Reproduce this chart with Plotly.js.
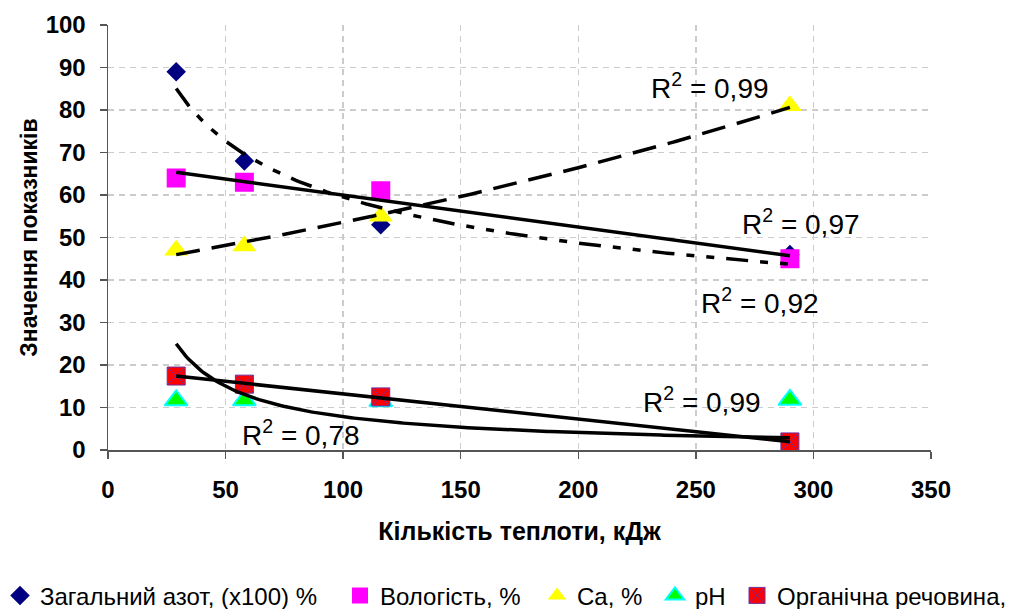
<!DOCTYPE html>
<html><head><meta charset="utf-8">
<script src="https://cdn.plot.ly/plotly-3.0.1.min.js"></script>
<style>html,body{margin:0;padding:0;background:#fff}#chart{width:1014px;height:609px}</style>
</head><body><div id="chart"></div>
<script>
// ---- data ----
const heat = [29, 58, 116, 290];              // Кількість теплоти, кДж
const nitrogen = [89, 68, 53, 46];            // Загальний азот, (x100) %
const moisture = [64, 63, 61, 45];            // Вологість, %
const calcium = [47, 48, 55, 81];             // Ca, %
const ph = [11.7, 11.7, 11.5, 11.8];          // pH
const organic = [17.4, 15.5, 12.5, 1.9];      // Органічна речовина
const seriesNames = ['Загальний азот, (x100) %', 'Вологість, %', 'Ca, %', 'pH', 'Органічна речовина,'];
const r2Texts = ['R<sup>2</sup> = 0,99', 'R<sup>2</sup> = 0,97', 'R<sup>2</sup> = 0,92', 'R<sup>2</sup> = 0,99', 'R<sup>2</sup> = 0,78'];
const xTickVals = [0, 50, 100, 150, 200, 250, 300, 350];
const yTickVals = [0, 10, 20, 30, 40, 50, 60, 70, 80, 90, 100];

// ---- least-squares trendlines (as Excel computes them) ----
function lsq(xs, ys) {
  const n = xs.length;
  const mx = xs.reduce((a, b) => a + b, 0) / n, my = ys.reduce((a, b) => a + b, 0) / n;
  let sxy = 0, sxx = 0;
  for (let i = 0; i < n; i++) { sxy += (xs[i] - mx) * (ys[i] - my); sxx += (xs[i] - mx) ** 2; }
  const b = sxy / sxx;
  return { a: my - b * mx, b: b };
}
const fits = {
  linear: (xs, ys) => { const f = lsq(xs, ys); return x => f.a + f.b * x; },
  power: (xs, ys) => { const f = lsq(xs.map(Math.log), ys.map(Math.log)); return x => Math.exp(f.a) * Math.pow(x, f.b); },
  exp: (xs, ys) => { const f = lsq(xs, ys.map(Math.log)); return x => Math.exp(f.a + f.b * x); }
};
const xmin = Math.min(...heat), xmax = Math.max(...heat);
const sampleX = [];
for (let i = 0; i <= 200; i++) sampleX.push(xmin + (xmax - xmin) * i / 200);
function trend(kind, ys, dash) {
  const f = fits[kind](heat, ys);
  return { type: 'scatter', mode: 'lines', x: sampleX, y: sampleX.map(f), showlegend: false, hoverinfo: 'skip',
    line: { color: '#000000', width: 3.5, dash: dash } };
}

const FONT = 'Liberation Sans, Arial, sans-serif';
const markerTraces = [
  { y: nitrogen, marker: { symbol: 'diamond', size: 15, color: '#000080' }, legend: 'legend' },
  { y: moisture, marker: { symbol: 'square', size: 19, color: '#FF00FF' }, legend: 'legend2' },
  { y: calcium, marker: { symbol: 'triangle-up', size: 21, color: '#FFFF00' }, legend: 'legend3' },
  { y: ph, marker: { symbol: 'triangle-up', size: 20, color: '#00FF00', line: { color: '#00FFFF', width: 2 } }, legend: 'legend4' },
  { y: organic, marker: { symbol: 'square-x', size: 18, color: '#FF0000', line: { color: '#7030A0', width: 1 } }, legend: 'legend5' }
].map((t, i) => Object.assign({ type: 'scatter', mode: 'markers', x: heat, name: seriesNames[i] }, t));

const traces = markerTraces.concat([
  trend('power', nitrogen, '22px,12px,8px,12px,8px,12px'),
  trend('linear', moisture, 'solid'),
  trend('exp', calcium, '24px,12px'),
  trend('linear', organic, 'solid'),
  trend('power', organic, 'solid')
]);

function legendAt(x) {
  return { x: x, y: -0.343, xanchor: 'left', yanchor: 'middle', orientation: 'h', bgcolor: 'rgba(0,0,0,0)',
    itemsizing: 'trace', font: { family: FONT, size: 24, color: '#000' } };
}
const annPos = [[256, 85.6], [294.8, 53.6], [277.3, 35], [252.7, 11.8], [82.1, 4.0]];
const layout = {
  width: 1014, height: 609,
  margin: { l: 108, r: 83, t: 25, b: 159, autoexpand: false },
  paper_bgcolor: '#fff', plot_bgcolor: '#fff',
  font: { family: FONT, color: '#000' },
  xaxis: {
    range: [0, 350], tickvals: xTickVals, ticks: 'outside', ticklen: 7, tickcolor: '#555', tickwidth: 1.5,
    showline: true, linecolor: '#555', linewidth: 1.5, zeroline: false,
    showgrid: true, gridcolor: '#cccccc', griddash: '6px,5px', gridwidth: 1.5,
    tickfont: { family: FONT, size: 24, color: '#000', weight: 'bold' }, ticklabelstandoff: 11,
    title: { text: 'Кількість теплоти, кДж', font: { family: FONT, size: 25, color: '#000', weight: 'bold' }, standoff: 20 }
  },
  yaxis: {
    range: [0, 100], tickvals: yTickVals, ticks: 'outside', ticklen: 7, tickcolor: '#555', tickwidth: 1.5,
    showline: true, linecolor: '#555', linewidth: 1.5, zeroline: false,
    showgrid: true, gridcolor: '#cccccc', griddash: '6px,5px', gridwidth: 1.5,
    tickfont: { family: FONT, size: 24, color: '#000', weight: 'bold' }, ticklabelstandoff: 9,
    title: { text: 'Значення показників', font: { family: FONT, size: 23, color: '#000', weight: 'bold' }, standoff: 1 }
  },
  legend: legendAt(-0.1312),
  legend2: legendAt(0.2819),
  legend3: legendAt(0.5213),
  legend4: legendAt(0.6646),
  legend5: legendAt(0.7643),
  annotations: r2Texts.map((t, i) => ({ x: annPos[i][0], y: annPos[i][1], xref: 'x', yref: 'y', text: t, showarrow: false,
    xanchor: 'center', yanchor: 'middle', font: { family: FONT, size: 28, color: '#000' } })),
  showlegend: true
};
Plotly.newPlot('chart', traces, layout, { displayModeBar: false, staticPlot: true });
</script>
</body></html>
